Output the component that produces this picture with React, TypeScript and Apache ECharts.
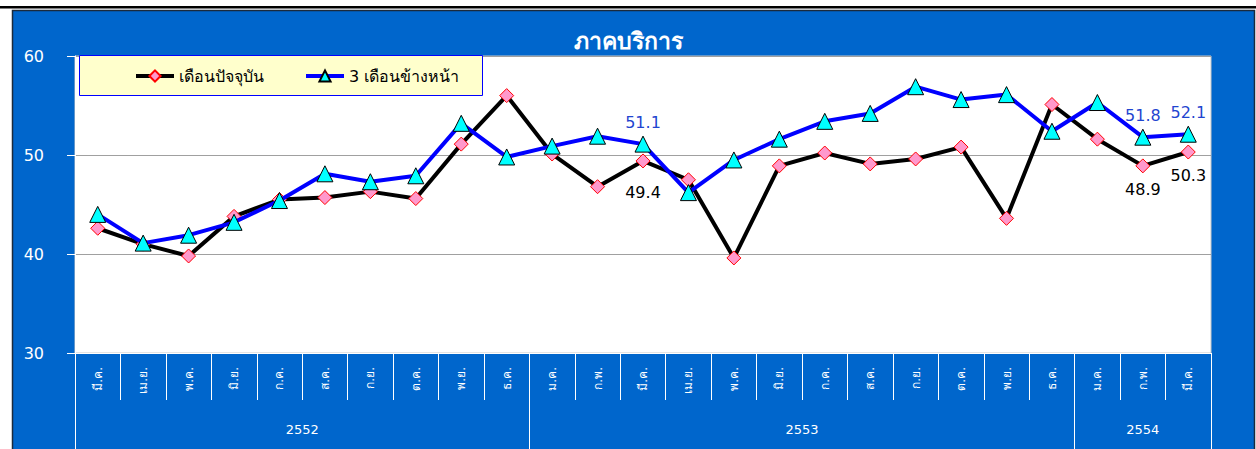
import React, { useEffect, useRef } from "react";
import * as echarts from "echarts";

const months = [
  "มี.ค.", "เม.ย.", "พ.ค.", "มิ.ย.", "ก.ค.", "ส.ค.", "ก.ย.", "ต.ค.", "พ.ย.", "ธ.ค.",
  "ม.ค.", "ก.พ.", "มี.ค.", "เม.ย.", "พ.ค.", "มิ.ย.", "ก.ค.", "ส.ค.", "ก.ย.", "ต.ค.", "พ.ย.", "ธ.ค.",
  "ม.ค.", "ก.พ.", "มี.ค.",
];
const years = ["2552", "2553", "2554"];
const yearBounds = [0, 10, 22, 25];
const yearCenters = [5, 16, 23.5];

const currentMonth = [
  42.6, 41.0, 39.8, 43.8, 45.5, 45.7, 46.3, 45.6, 51.1, 56.0,
  50.1, 46.8, 49.4, 47.5, 39.6, 48.9, 50.2, 49.1, 49.6, 50.8, 43.6, 55.1,
  51.6, 48.9, 50.3,
];
const threeMonthsAhead = [
  44.0, 41.1, 41.9, 43.2, 45.4, 48.1, 47.3, 47.9, 53.2, 49.8,
  50.9, 51.9, 51.1, 46.2, 49.5, 51.6, 53.4, 54.2, 56.9, 55.6, 56.1, 52.4,
  55.3, 51.8, 52.1,
];
const labeledIdx = [12, 23, 24];

const seriesNames = ["เดือนปัจจุบัน", "3 เดือนข้างหน้า"];
const FONT = '"DejaVu Sans", "Noto Sans", sans-serif';

export default function App() {
  const ref = useRef<HTMLDivElement>(null);
  useEffect(() => {
    document.body.style.margin = "0";
    const chart = echarts.init(ref.current!, null, { renderer: "svg" });
    const blackData = currentMonth.map((v, i) =>
      labeledIdx.includes(i)
        ? {
            value: v,
            label: {
              show: true,
              position: "bottom",
              distance: i === 12 ? 16 : 8,
              color: "#000000",
              fontSize: 16,
              fontFamily: FONT,
              formatter: (p: any) => p.value.toFixed(1),
            },
          }
        : v
    );
    const blueData = threeMonthsAhead.map((v, i) =>
      labeledIdx.includes(i)
        ? {
            value: v,
            label: {
              show: true,
              position: "top",
              distance: 5,
              color: "#1F45D0",
              fontSize: 16,
              fontFamily: FONT,
              formatter: (p: any) => p.value.toFixed(1),
            },
          }
        : v
    );
    const legendCommon = {
      top: 63,
      itemWidth: 38,
      itemHeight: 14,
      itemGap: 2,
      textStyle: { color: "#000000", fontSize: 16, fontFamily: FONT },
      lineStyle: { width: 4 },
      z: 5,
    };
    chart.setOption({
      animation: false,
      backgroundColor: "#ffffff",
      textStyle: { fontFamily: FONT },
      title: {
        text: "ภาคบริการ",
        left: "center",
        top: 24,
        textStyle: { color: "#ffffff", fontSize: 23, fontWeight: "bold", fontFamily: FONT },
      },
      graphic: [
        {
          type: "rect",
          z: -10,
          shape: { x: 0, y: 6, width: 1256, height: 2.5 },
          style: { fill: "#000000" },
        },
        {
          type: "rect",
          z: -10,
          shape: { x: 12.5, y: 10.5, width: 1242, height: 445 },
          style: { fill: "#0066CC", stroke: "#1b2a3c", lineWidth: 1.5 },
        },
        {
          type: "rect",
          z: 2,
          shape: { x: 79.5, y: 55.5, width: 403, height: 40 },
          style: { fill: "#FFFFCC", stroke: "#0000FF", lineWidth: 1 },
        },
      ],
      legend: [
        { ...legendCommon, data: [seriesNames[0]], left: 129 },
        { ...legendCommon, data: [seriesNames[1]], left: 299 },
      ],
      grid: {
        left: 75,
        right: 45,
        top: 56,
        bottom: 96,
        show: true,
        backgroundColor: "#ffffff",
        borderColor: "#c8c8c8",
        borderWidth: 1,
        outerBoundsMode: "none",
        containLabel: false,
      },
      xAxis: [
        {
          type: "category",
          data: months,
          boundaryGap: true,
          axisLine: { show: true, lineStyle: { color: "#ffffff", width: 1 } },
          axisTick: { show: true, interval: 0, length: 47, lineStyle: { color: "#ffffff", width: 1 } },
          axisLabel: {
            interval: 0,
            rotate: 90,
            color: "#ffffff",
            fontSize: 12,
            margin: 14,
            fontFamily: FONT,
          },
          splitLine: { show: false },
        },
        {
          type: "value",
          min: 0,
          max: 25,
          position: "bottom",
          offset: 47,
          axisLine: { show: false },
          axisTick: {
            show: true,
            customValues: yearBounds,
            length: 50,
            lineStyle: { color: "#ffffff", width: 1 },
          },
          axisLabel: {
            show: true,
            customValues: yearCenters,
            color: "#ffffff",
            fontSize: 13,
            margin: 23,
            fontFamily: FONT,
            formatter: (v: number) => {
              const k = yearCenters.indexOf(v);
              return k >= 0 ? years[k] : "";
            },
          },
          splitLine: { show: false },
        },
      ],
      yAxis: {
        type: "value",
        min: 30,
        max: 60,
        interval: 10,
        axisLine: { show: true, lineStyle: { color: "#ffffff", width: 1 } },
        axisTick: { show: true, length: 8, lineStyle: { color: "#ffffff" } },
        axisLabel: { color: "#ffffff", fontSize: 16, margin: 31, fontFamily: FONT },
        splitLine: { show: true, lineStyle: { color: "#a0a0a0", width: 1 } },
      },
      series: [
        {
          name: seriesNames[0],
          type: "line",
          xAxisIndex: 0,
          data: blackData,
          symbol: "diamond",
          symbolSize: 14,
          lineStyle: { color: "#000000", width: 4 },
          itemStyle: { color: "#FF99CC", borderColor: "#FF0000", borderWidth: 1 },
          z: 3,
        },
        {
          name: seriesNames[1],
          type: "line",
          xAxisIndex: 0,
          data: blueData,
          symbol: "triangle",
          symbolSize: 16,
          lineStyle: { color: "#0000FF", width: 4 },
          itemStyle: { color: "#00FFFF", borderColor: "#000000", borderWidth: 1 },
          z: 4,
        },
      ],
    });
    return () => chart.dispose();
  }, []);
  return <div ref={ref} style={{ width: 1256, height: 449 }} />;
}
